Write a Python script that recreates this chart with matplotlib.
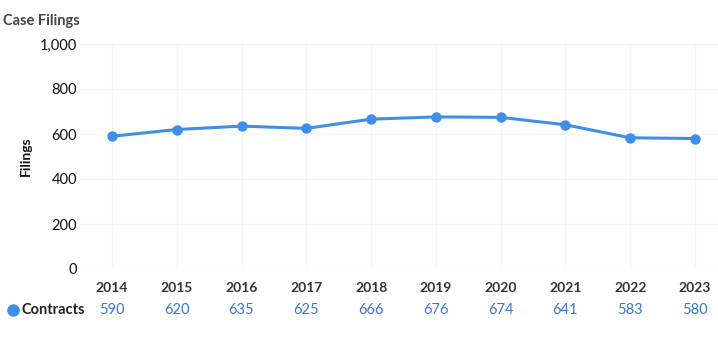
import numpy as np
import matplotlib.pyplot as plt
import matplotlib.transforms as mtransforms

plt.rcParams['font.family'] = ['Lato', 'DejaVu Sans']

years = ['2014', '2015', '2016', '2017', '2018', '2019', '2020', '2021', '2022', '2023']
contracts = [590, 620, 635, 625, 666, 676, 674, 641, 583, 580]
yticks = [0, 200, 400, 600, 800, 1000]
ytick_labels = ['0', '200', '400', '600', '800', '1,000']

W, H = 718, 356
line_color = '#3f8fe8'
value_color = '#3a78d0'

fig = plt.figure(figsize=(W / 100, H / 100), dpi=100)
ax = fig.add_axes([80 / W, 1 - 269 / H, 638 / W, 225 / H])

x = np.arange(len(years))
ax.plot(x, contracts, color=line_color, lw=2.2, marker='o', ms=6.5,
        clip_on=False, zorder=3)

step = (695 - 112) / 9
ax.set_xlim(-32 / step, 9 + 23 / step)
ax.set_ylim(0, 1000)
ax.set_xticks(x)
ax.set_xticklabels(years, fontsize=10, fontweight='bold', color='#333333')
ax.set_yticks(yticks)
ax.set_yticklabels(ytick_labels, fontsize=10.5, color='#111111')
ax.tick_params(length=0, axis='x', pad=9)
ax.tick_params(length=0, axis='y', pad=2)
ax.grid(True, color='#f5f5f5', lw=1)
for s in ax.spines.values():
    s.set_visible(False)

ax.set_ylabel('Filings', fontsize=10, fontweight='bold', color='#111111', labelpad=6)

fig.text(3 / W, 1 - 21 / H, 'Case Filings', fontsize=10.5, fontweight='bold',
         color='#444444', va='center', ha='left')

# table row under the axis
trans = mtransforms.blended_transform_factory(ax.transData, fig.transFigure)
for xi, v in zip(x, contracts):
    ax.text(xi, 1 - 310 / H, str(v), transform=trans, ha='center', va='center',
            fontsize=10.5, color=value_color, clip_on=False)
fig.lines.append(plt.Line2D([13 / W], [1 - 310 / H], marker='o', ms=8,
                            color=line_color, transform=fig.transFigure))
fig.text(21 / W, 1 - 310 / H, 'Contracts', fontsize=10.5, fontweight='bold',
         color='#222222', va='center', ha='left')

fig.savefig('out.png', dpi=100)
